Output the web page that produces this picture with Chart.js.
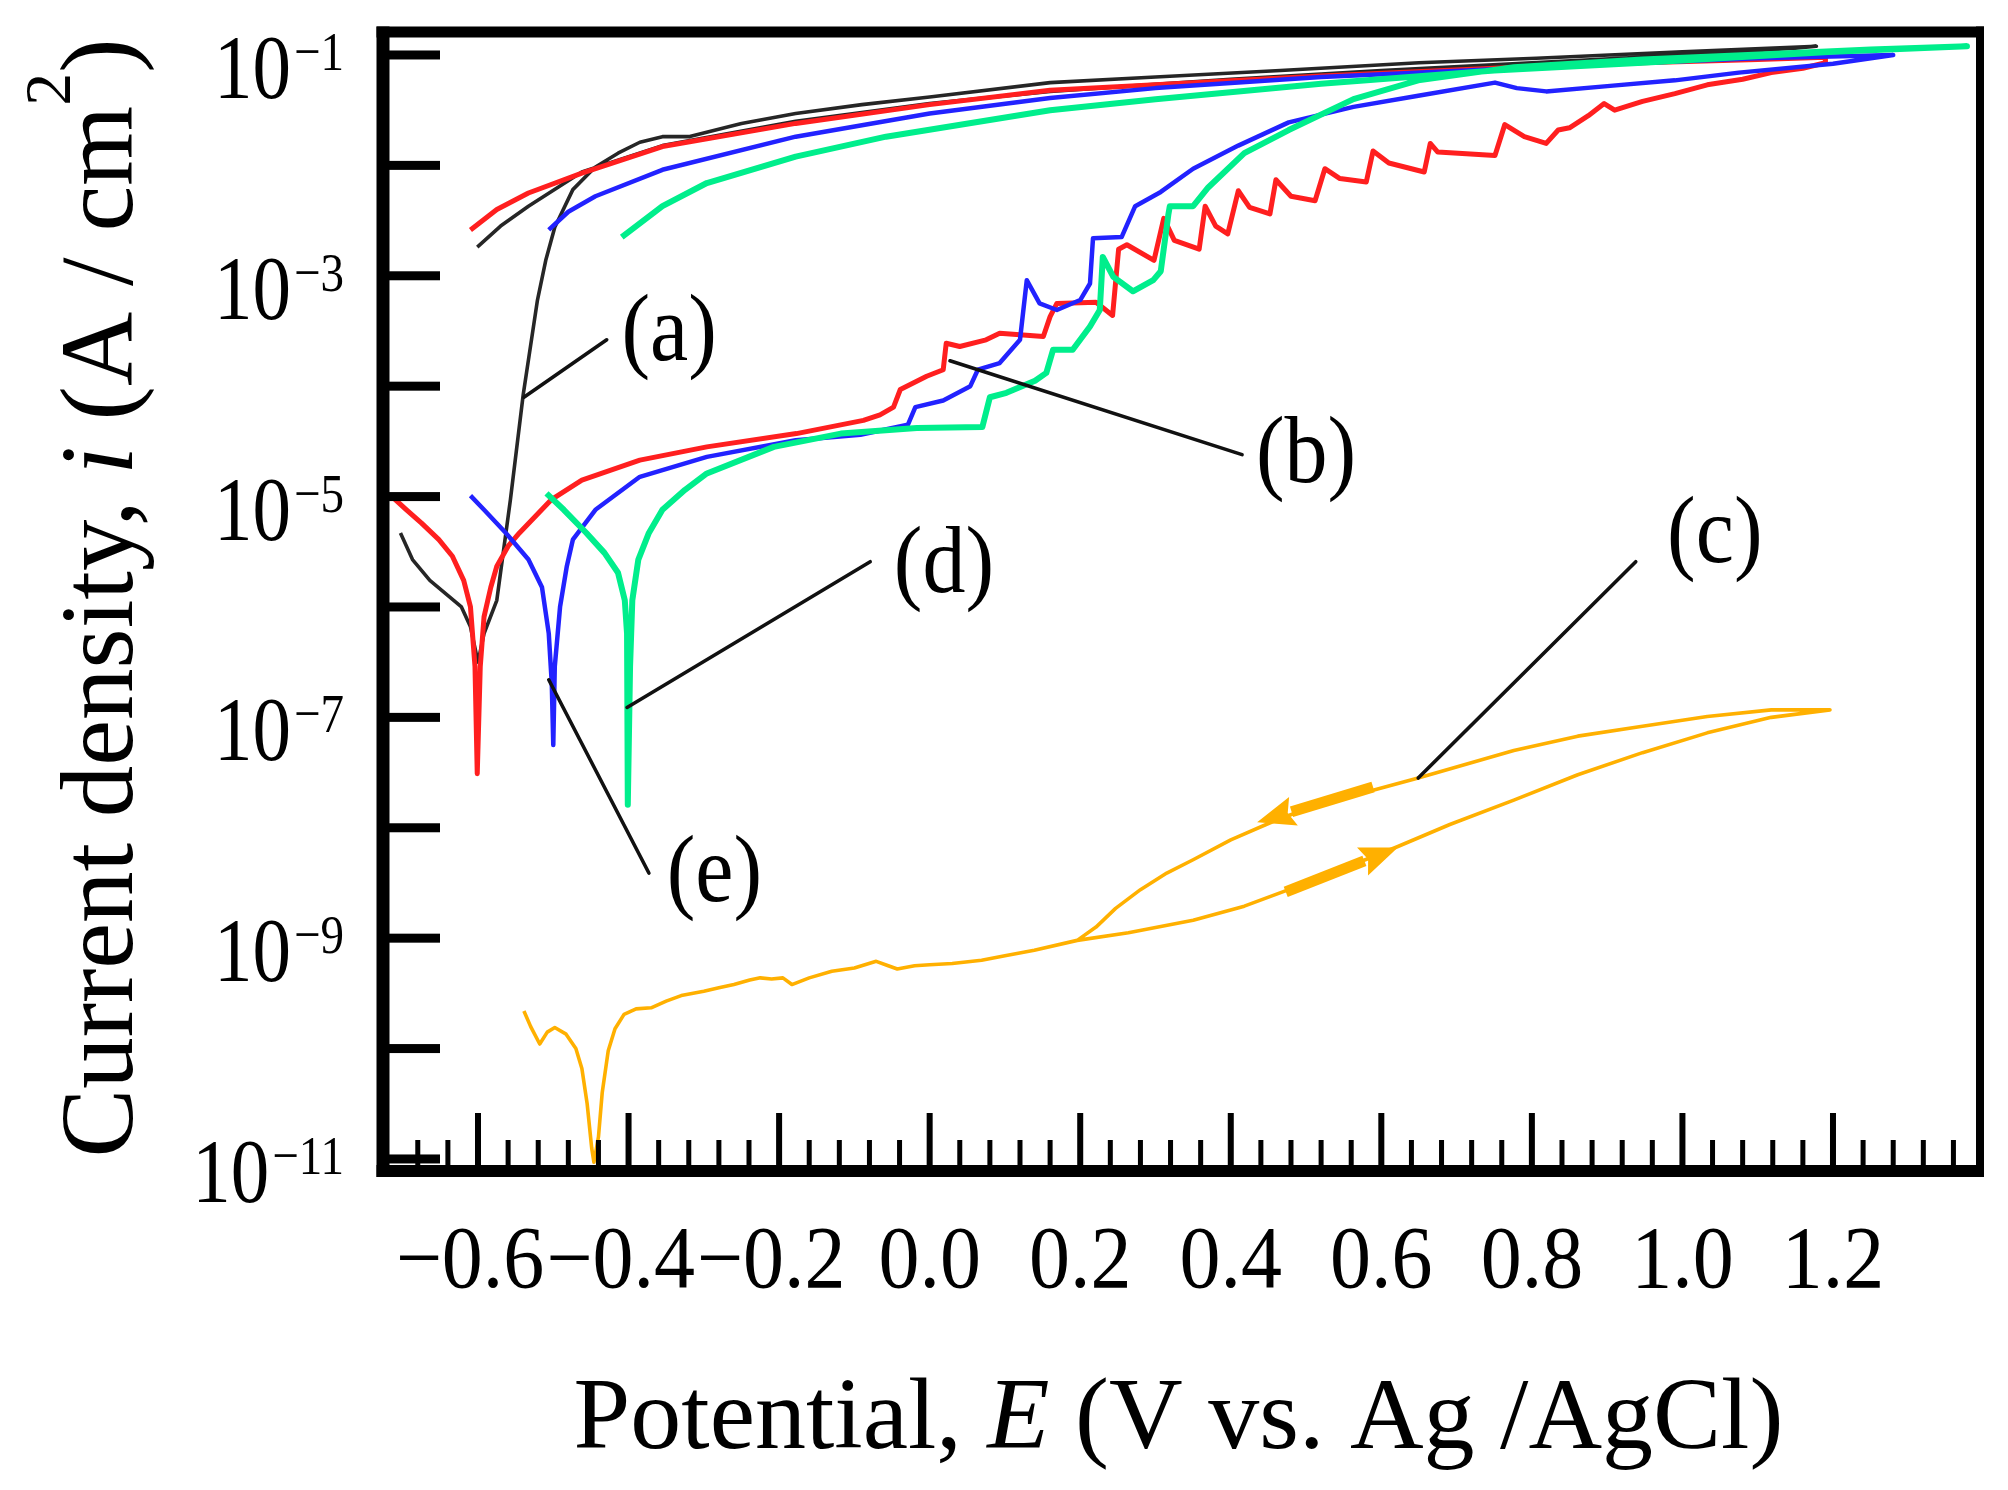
<!DOCTYPE html>
<html>
<head>
<meta charset="utf-8">
<script src="https://cdn.jsdelivr.net/npm/chart.js@4.4.0/dist/chart.umd.min.js"></script>
<style>
html,body{margin:0;padding:0;background:#fff;}
#wrap{width:2008px;height:1490px;position:relative;}
</style>
</head>
<body>
<div id="wrap"><canvas id="c" width="2008" height="1490"></canvas></div>
<script>
// ---------------- DATA (potential in V vs Ag/AgCl, current density in A/cm2) ----------------
// (a) black
const potentialA = [-0.703,-0.687,-0.664,-0.622,-0.61,-0.60,-0.592,-0.575,-0.557,-0.54,-0.521,-0.51,-0.498,-0.474,-0.445,-0.414,-0.385,-0.355,-0.32,-0.25,-0.178,-0.09,0.0,0.16,0.3,0.466,0.65,0.806,1.0,1.178,
  1.15,1.0,0.8,0.6,0.4,0.16,0.0,-0.178,-0.355,-0.462,-0.533,-0.57,-0.601];
const currentA = [4.68e-6,2.69e-6,1.74e-6,1.0e-6,6.61e-7,3.16e-7,5.75e-7,1.15e-6,9.33e-6,8.32e-5,6.03e-4,1.38e-3,2.75e-3,6.03e-3,9.55e-3,1.29e-2,1.62e-2,1.82e-2,1.82e-2,2.40e-2,2.95e-2,3.55e-2,4.17e-2,5.62e-2,6.31e-2,7.24e-2,8.51e-2,9.33e-2,0.107,0.120,
  0.115,0.100,8.51e-2,7.24e-2,6.03e-2,4.68e-2,3.63e-2,2.51e-2,1.51e-2,8.71e-3,4.27e-3,2.82e-3,1.82e-3];

// (b) red
const potentialB = [-0.711,-0.695,-0.675,-0.652,-0.634,-0.619,-0.61,-0.604,-0.601,-0.597,-0.592,-0.583,-0.575,-0.56,-0.545,-0.503,-0.462,-0.385,-0.296,-0.177,-0.088,-0.066,-0.048,-0.039,-0.004,0.018,0.022,0.04,0.075,0.093,0.151,0.16,0.169,0.221,0.243,0.251,0.262,0.298,0.311,0.325,0.358,0.366,0.38,0.396,0.41,0.425,0.452,0.46,0.48,0.512,0.525,0.545,0.58,0.589,0.61,0.657,0.665,0.675,0.751,0.764,0.79,0.819,0.835,0.85,0.875,0.896,0.91,0.947,0.99,1.033,1.08,1.118,1.16,1.19,
  1.19,1.1,0.947,0.75,0.52,0.3,0.16,0.0,-0.178,-0.355,-0.462,-0.533,-0.575,-0.61];
const currentB = [9.55e-6,7.59e-6,5.75e-6,4.07e-6,2.88e-6,1.74e-6,1.0e-6,2.88e-7,3.09e-8,2.88e-7,8.13e-7,1.51e-6,2.34e-6,3.55e-6,4.68e-6,9.33e-6,1.41e-5,2.14e-5,2.82e-5,3.72e-5,4.90e-5,5.50e-5,6.46e-5,9.33e-5,1.23e-4,1.41e-4,2.45e-4,2.29e-4,2.63e-4,3.02e-4,2.82e-4,4.27e-4,5.62e-4,5.75e-4,4.37e-4,1.74e-3,1.91e-3,1.38e-3,3.31e-3,2.09e-3,1.74e-3,4.27e-3,2.82e-3,2.40e-3,5.89e-3,4.17e-3,3.63e-3,7.41e-3,5.25e-3,4.79e-3,9.33e-3,7.59e-3,7.08e-3,1.35e-2,1.05e-2,8.71e-3,1.58e-2,1.32e-2,1.23e-2,2.34e-2,1.82e-2,1.58e-2,2.09e-2,2.19e-2,2.82e-2,3.63e-2,3.16e-2,3.80e-2,4.47e-2,5.37e-2,6.03e-2,6.92e-2,7.59e-2,8.51e-2,
  9.55e-2,9.12e-2,8.51e-2,7.59e-2,6.46e-2,5.37e-2,4.79e-2,3.55e-2,2.40e-2,1.48e-2,8.51e-3,5.62e-3,3.98e-3,2.60e-3];

// (c) orange
const potentialC = [-0.539,-0.53,-0.518,-0.508,-0.498,-0.483,-0.47,-0.462,-0.455,-0.449,-0.446,-0.44,-0.435,-0.427,-0.418,-0.406,-0.39,-0.37,-0.35,-0.33,-0.3,-0.28,-0.26,-0.239,-0.225,-0.21,-0.195,-0.183,-0.16,-0.13,-0.1,-0.071,-0.055,-0.043,-0.02,0.0,0.03,0.069,0.1,0.139,0.196,0.264,0.35,0.418,0.477,0.546,0.622,0.691,0.776,0.861,0.947,1.033,1.118,1.196,
  1.118,1.033,0.947,0.861,0.776,0.649,0.589,0.52,0.46,0.4,0.35,0.315,0.28,0.247,0.221,0.196];
const currentC = [2.19e-10,1.58e-10,1.10e-10,1.41e-10,1.55e-10,1.35e-10,1.0e-10,6.61e-11,3.16e-11,1.26e-11,9.33e-12,1.58e-11,3.98e-11,9.55e-11,1.51e-10,2.04e-10,2.29e-10,2.34e-10,2.69e-10,3.02e-10,3.31e-10,3.55e-10,3.80e-10,4.17e-10,4.37e-10,4.27e-10,4.37e-10,3.80e-10,4.37e-10,5.01e-10,5.37e-10,6.17e-10,5.62e-10,5.25e-10,5.62e-10,5.75e-10,5.89e-10,6.31e-10,6.92e-10,7.76e-10,9.55e-10,1.12e-9,1.45e-9,1.95e-9,2.75e-9,4.17e-9,6.76e-9,1.07e-8,1.78e-8,3.02e-8,4.79e-8,7.24e-8,1.0e-7,1.17e-7,
  1.17e-7,1.02e-7,8.32e-8,6.76e-8,5.01e-8,2.82e-8,2.19e-8,1.66e-8,1.17e-8,7.76e-9,5.13e-9,3.89e-9,2.75e-9,1.86e-9,1.26e-9,9.55e-10];

// (d) green
const potentialD = [-0.509,-0.486,-0.456,-0.432,-0.414,-0.405,-0.402,-0.401,-0.398,-0.395,-0.387,-0.373,-0.355,-0.325,-0.296,-0.207,-0.118,-0.017,0.07,0.08,0.102,0.14,0.155,0.164,0.19,0.213,0.226,0.23,0.244,0.27,0.297,0.307,0.317,0.319,0.35,0.37,0.418,0.477,0.563,0.649,0.776,0.947,1.118,1.25,1.378,
  1.2,0.947,0.75,0.52,0.3,0.16,-0.058,-0.178,-0.296,-0.355,-0.409];
const currentD = [1.07e-5,7.59e-6,4.68e-6,3.09e-6,2.04e-6,1.15e-6,5.75e-7,1.62e-8,2.88e-7,1.15e-6,2.69e-6,4.68e-6,7.59e-6,1.15e-5,1.62e-5,2.82e-5,3.72e-5,4.17e-5,4.27e-5,7.94e-5,8.71e-5,1.12e-4,1.32e-4,2.14e-4,2.14e-4,3.47e-4,4.90e-4,1.48e-3,9.77e-4,7.24e-4,9.12e-4,1.10e-3,3.55e-3,4.27e-3,4.27e-3,6.31e-3,1.29e-2,2.09e-2,3.98e-2,5.89e-2,7.76e-2,9.12e-2,0.102,0.112,0.120,
  0.107,8.51e-2,7.24e-2,5.50e-2,3.98e-2,3.16e-2,1.82e-2,1.20e-2,6.92e-3,4.27e-3,2.24e-3];

// (e) blue
const potentialE = [-0.610,-0.592,-0.563,-0.533,-0.515,-0.506,-0.502,-0.5,-0.498,-0.491,-0.482,-0.474,-0.444,-0.385,-0.296,-0.178,-0.092,-0.029,-0.019,0.018,0.054,0.064,0.093,0.12,0.129,0.146,0.169,0.2,0.213,0.217,0.255,0.273,0.307,0.35,0.41,0.477,0.563,0.649,0.751,0.78,0.819,0.904,0.99,1.075,1.2,1.28,
  1.1,0.947,0.75,0.52,0.3,0.16,0.0,-0.178,-0.355,-0.444,-0.48,-0.506];
const currentE = [1.02e-5,7.59e-6,4.68e-6,2.69e-6,1.51e-6,5.75e-7,2.04e-7,5.62e-8,2.88e-7,1.0e-6,2.34e-6,4.07e-6,7.59e-6,1.51e-5,2.29e-5,3.24e-5,3.63e-5,4.47e-5,6.46e-5,7.41e-5,1.0e-4,1.41e-4,1.62e-4,2.63e-4,9.12e-4,5.62e-4,4.90e-4,6.03e-4,8.51e-4,2.19e-3,2.24e-3,4.27e-3,5.75e-3,9.33e-3,1.51e-2,2.45e-2,3.39e-2,4.27e-2,5.62e-2,5.01e-2,4.68e-2,5.25e-2,5.89e-2,6.92e-2,8.32e-2,0.100,
  9.33e-2,8.51e-2,7.41e-2,6.31e-2,5.01e-2,4.07e-2,2.95e-2,1.82e-2,9.12e-3,5.25e-3,3.80e-3,2.60e-3];

// ticks
const xTickValues = [-0.6,-0.4,-0.2,0.0,0.2,0.4,0.6,0.8,1.0,1.2];
const xTickLabels = ['\u22120.6','\u22120.4','\u22120.2','0.0','0.2','0.4','0.6','0.8','1.0','1.2'];
const yTickExponents = [-1,-2,-3,-4,-5,-6,-7,-8,-9,-10,-11];
const yLabelExponents = [-1,-3,-5,-7,-9,-11];
const curveLabels = ['(a)','(b)','(c)','(d)','(e)'];

// ---------------- ANNOTATION PLACEMENT (data coordinates) ----------------
const leaders = [
  {from:[-0.539,7.94e-5], to:[-0.429,2.63e-4], at:[-0.346,2.85e-4]},
  {from:[0.027,1.70e-4],  to:[0.415,2.40e-5],  at:[0.500,2.24e-5]},
  {from:[0.649,2.82e-8],  to:[0.938,2.57e-6],  at:[1.043,4.22e-6]},
  {from:[-0.402,1.23e-7], to:[-0.079,2.57e-6], at:[0.019,2.24e-6]},
  {from:[-0.506,2.19e-7], to:[-0.373,3.89e-9], at:[-0.286,3.55e-9]}
];
const scanArrows = [
  {tail:[0.589,2.34e-8], tip:[0.435,1.12e-8]},
  {tail:[0.473,2.63e-9], tip:[0.622,6.61e-9]}
];

const COL = {a:'#262626', b:'#ff1f1f', c:'#ffb000', d:'#00ee8c', e:'#2222ff'};
const SERIF = '"Liberation Serif", "Times New Roman", serif';

function pts(xs, ys){ return xs.map((v,i)=>({x:v, y:ys[i]})); }

function stretchText(ctx, str, x, y, font, sy){
  ctx.save();
  ctx.font = font;
  ctx.translate(x, y);
  ctx.scale(1, sy);
  ctx.fillText(str, 0, 0);
  ctx.restore();
}

const decorPlugin = {
  id:'decor',
  afterDatasetsDraw(chart){
    const ctx = chart.ctx, xs = chart.scales.x, ys = chart.scales.y;
    const px = v => xs.getPixelForValue(v), py = v => ys.getPixelForValue(v);
    ctx.save();
    // scan direction arrows on (c)
    ctx.fillStyle = COL.c; ctx.strokeStyle = COL.c;
    scanArrows.forEach(ar=>{
      const x1=px(ar.tail[0]), y1=py(ar.tail[1]), x2=px(ar.tip[0]), y2=py(ar.tip[1]);
      const ang=Math.atan2(y2-y1,x2-x1), L=Math.hypot(x2-x1,y2-y1), hl=38, hw=15;
      ctx.save(); ctx.translate(x1,y1); ctx.rotate(ang);
      ctx.lineWidth=11; ctx.lineCap='butt';
      ctx.beginPath(); ctx.moveTo(0,0); ctx.lineTo(L-hl+2,0); ctx.stroke();
      ctx.beginPath(); ctx.moveTo(L,0); ctx.lineTo(L-hl,-hw); ctx.lineTo(L-hl+6,0); ctx.lineTo(L-hl,hw); ctx.closePath(); ctx.fill();
      ctx.restore();
    });
    // leader lines & labels
    ctx.strokeStyle='#111'; ctx.fillStyle='#000'; ctx.lineWidth=3.6; ctx.lineCap='round';
    leaders.forEach((ld,i)=>{
      ctx.beginPath(); ctx.moveTo(px(ld.from[0]),py(ld.from[1])); ctx.lineTo(px(ld.to[0]),py(ld.to[1])); ctx.stroke();
      ctx.textAlign='center'; ctx.textBaseline='alphabetic';
      stretchText(ctx, curveLabels[i], px(ld.at[0]), py(ld.at[1])+24, '86px '+SERIF, 1.1);
    });
    ctx.restore();
  },
  afterDraw(chart){
    const ctx = chart.ctx, a = chart.chartArea, xs = chart.scales.x, ys = chart.scales.y;
    const px = v => xs.getPixelForValue(v), py = v => ys.getPixelForValue(v);
    ctx.save();
    ctx.fillStyle='#000';
    const W=a.right-a.left, H=a.bottom-a.top;
    // frame
    ctx.fillRect(a.left-6.5, a.top-5.5, W+10.5, 11);
    ctx.fillRect(a.left-6.5, a.bottom-6, W+10.5, 12);
    ctx.fillRect(a.left-6.5, a.top-5.5, 13, H+11.5);
    ctx.fillRect(a.right-4, a.top-5.5, 8, H+11.5);
    // y ticks (inward)
    yTickExponents.forEach(e=>{ const y=py(Math.pow(10,e)); ctx.fillRect(a.left, y-4.5, 57, 9); });
    // x ticks (inward) : major every 0.2, minor every 0.04
    xTickValues.forEach(v=>{ const x=px(v); ctx.fillRect(x-3, a.bottom-58, 6, 58); });
    for(let k=-17;k<=34;k++){
      const v=k*0.04; if(k%5===0) continue;
      if(v<=xs.min+0.01||v>=xs.max-0.01) continue;
      const x=px(v); ctx.fillRect(x-2.5, a.bottom-31, 5, 31);
    }
    // x tick labels
    ctx.textAlign='center'; ctx.textBaseline='alphabetic';
    xTickValues.forEach((v,i)=> stretchText(ctx, xTickLabels[i], px(v)-(v<0?8:0), 1287, '82px '+SERIF, 1.08));
    // y tick labels 10^n
    ctx.textAlign='left';
    yLabelExponents.forEach(e=>{
      const y=py(Math.pow(10,e));
      const base='10', sup='\u2212'+Math.abs(e);
      ctx.font='77px '+SERIF; const bw=ctx.measureText(base).width;
      ctx.font='47px '+SERIF; const sw=ctx.measureText(sup).width;
      const x0=344-sw-bw-3;
      stretchText(ctx, base, x0, y+43, '77px '+SERIF, 1.18);
      stretchText(ctx, sup, x0+bw+3, y+15, '47px '+SERIF, 1.18);
    });
    // x axis title
    const xr=[['Potential, ','102px '+SERIF],['E','italic 102px '+SERIF],[' (V vs. Ag /AgCl)','102px '+SERIF]];
    let tw=0; xr.forEach(r=>{ctx.font=r[1]; tw+=ctx.measureText(r[0]).width;});
    let cx=(a.left+a.right)/2 - tw/2 - 3;
    xr.forEach(r=>{ctx.font=r[1]; ctx.fillText(r[0], cx, 1448); cx+=ctx.measureText(r[0]).width;});
    // y axis title (rotated)
    ctx.save();
    ctx.translate(132, 598); ctx.rotate(-Math.PI/2);
    const yr=[['Current density, ','103px '+SERIF,0],['i','italic 103px '+SERIF,0],[' (A / cm','103px '+SERIF,0],['2','66px '+SERIF,-62],[')','103px '+SERIF,0]];
    tw=0; yr.forEach(r=>{ctx.font=r[1]; tw+=ctx.measureText(r[0]).width;});
    cx=-tw/2;
    yr.forEach(r=>{ctx.font=r[1]; ctx.fillText(r[0], cx, r[2]); cx+=ctx.measureText(r[0]).width;});
    ctx.restore();
    ctx.restore();
  }
};

const mk = (label, xsA, ysA, color, w) => ({label, data:pts(xsA, ysA), showLine:true, borderColor:color, backgroundColor:color, borderWidth:w, pointRadius:0, fill:false, tension:0});

new Chart(document.getElementById('c').getContext('2d'), {
  type:'scatter',
  data:{datasets:[
    mk('(d)', potentialD, currentD, COL.d, 6),
    mk('(e)', potentialE, currentE, COL.e, 4.5),
    mk('(b)', potentialB, currentB, COL.b, 5),
    mk('(a)', potentialA, currentA, COL.a, 3.6),
    mk('(c)', potentialC, currentC, COL.c, 3.6)
  ]},
  options:{
    responsive:false, animation:false, devicePixelRatio:1,
    layout:{padding:{left:383, top:32, right:28, bottom:319}},
    elements:{line:{borderJoinStyle:'round', borderCapStyle:'butt'}},
    scales:{
      x:{type:'linear', min:-0.7262, max:1.3953, display:false},
      y:{type:'logarithmic', min:7.78e-12, max:0.1615, display:false}
    },
    plugins:{legend:{display:false}, tooltip:{enabled:false}}
  },
  plugins:[decorPlugin]
});
</script>
</body>
</html>
